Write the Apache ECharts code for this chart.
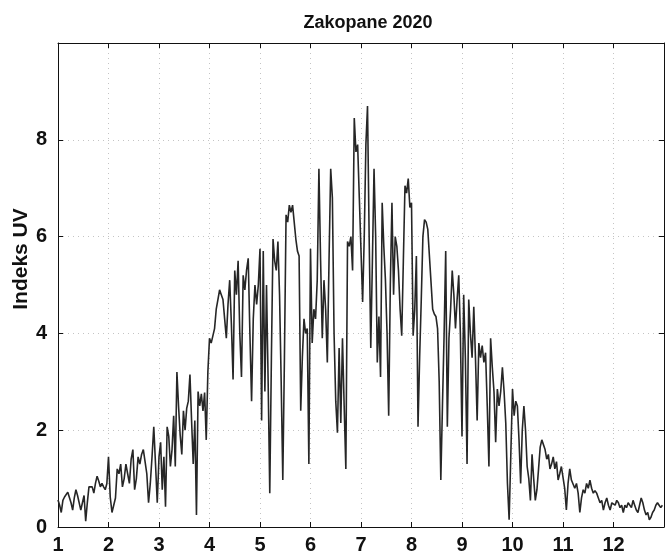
<!DOCTYPE html>
<html>
<head>
<meta charset="utf-8">
<script src="https://cdn.jsdelivr.net/npm/echarts@6/dist/echarts.min.js"></script>
<style>
html,body{margin:0;padding:0;background:#fff;}
#chart{width:667px;height:555px;}
</style>
</head>
<body>
<div id="chart"></div>
<script>
// Daily UV index, Zakopane 2020
var jan = [0.56,0.45,0.30,0.55,0.62,0.60,0.72,0.70,0.50,0.35,0.60,0.77,0.65,0.62,0.35,0.50,0.65,0.12,0.50,0.83,0.80,0.83,0.70,0.90,1.05,0.95,0.83,0.90,0.83,0.77,0.90];
var feb = [1.45,0.62,0.30,0.45,0.60,1.20,1.10,1.30,0.83,1.00,1.30,1.10,0.90,1.40,1.60,0.77,1.00,1.45,1.30,1.50,1.60,1.35,1.10,0.50,0.90,1.45,2.07,1.30,0.50];
var mar = [1.45,1.75,0.77,1.45,0.42,2.07,1.87,1.25,1.60,2.30,1.25,3.20,2.50,1.90,1.50,2.40,2.00,2.45,2.60,3.15,2.20,1.30,2.20,0.25,2.80,2.50,2.75,2.40,2.78,1.80,3.20];
var apr = [3.90,3.80,3.80,4.10,4.50,4.70,4.90,4.80,4.70,4.30,3.90,4.60,5.10,4.20,3.05,5.30,4.80,5.50,4.00,3.10,5.20,4.90,5.30,5.55,4.00,2.60,4.30,5.00,4.60,5.00];
var may = [5.75,2.20,5.70,2.80,5.00,3.00,0.70,3.50,5.95,5.50,5.30,5.90,4.80,3.00,0.97,3.50,6.45,6.30,6.65,6.50,6.65,6.30,5.95,5.70,5.60,2.40,3.50,4.30,4.00,4.10,1.30];
var jun = [5.75,3.80,4.50,4.30,5.10,7.40,5.50,3.90,5.10,4.50,3.40,5.50,7.40,6.80,4.00,2.60,1.95,3.70,2.15,3.90,2.50,1.20,5.90,5.80,6.00,5.30,8.45,7.75,7.90,6.80];
var jul = [6.80,4.65,6.00,7.90,8.70,6.00,3.70,5.50,7.40,6.00,3.40,4.35,3.10,6.70,5.80,5.10,4.00,2.30,5.00,6.70,4.80,6.00,5.80,5.30,4.50,3.95,5.50,7.05,6.90,7.20,6.60];
var aug = [6.70,3.95,4.50,5.60,2.07,3.50,4.70,6.00,6.35,6.30,6.15,5.60,5.05,4.50,4.40,4.35,4.10,3.00,0.97,2.50,3.95,5.70,2.07,3.90,4.50,5.30,4.80,4.10,4.70,5.20,4.00];
var sep = [1.87,4.80,3.50,1.30,4.70,4.00,3.50,4.55,3.50,2.20,3.80,3.50,3.75,3.40,3.60,2.50,1.25,3.90,3.30,2.80,1.75,2.85,2.50,2.80,3.30,2.80,2.15,0.90,0.15,1.50];
var oct = [2.85,2.30,2.60,2.50,1.80,0.90,2.00,2.50,2.00,1.25,1.00,0.55,1.50,1.00,0.55,0.77,1.20,1.65,1.80,1.80,1.60,1.40,1.50,1.20,1.30,1.45,1.20,1.35,0.97,1.10,1.25];
var nov = [1.25,0.80,0.35,0.90,1.20,0.97,1.00,0.80,0.90,0.70,0.30,0.60,0.77,0.70,0.90,0.80,0.97,0.80,0.70,0.75,0.70,0.60,0.50,0.55,0.35,0.50,0.60,0.45,0.35,0.50];
var dec = [0.50,0.45,0.55,0.50,0.40,0.45,0.30,0.45,0.40,0.50,0.50,0.40,0.55,0.45,0.35,0.30,0.45,0.60,0.50,0.35,0.25,0.30,0.15,0.20,0.30,0.35,0.45,0.50,0.45,0.40,0.45];

var xTickLabels = ['1','2','3','4','5','6','7','8','9','10','11','12'];
var yTickLabels = ['0','2','4','6','8'];
var titleText = 'Zakopane 2020';
var yAxisTitle = 'Indeks UV';

var months = [jan,feb,mar,apr,may,jun,jul,aug,sep,oct,nov,dec];
var points = [];
months.forEach(function(arr, mi){
  arr.forEach(function(v, d){
    points.push([mi + 1 + d / arr.length, v]);
  });
});

var FONT = 'Liberation Sans';
var gridLine = {show:true, lineStyle:{color:'#c4c4c4', type:[1,4], width:1}};
var axisCommon = {
  axisLine:{show:true, onZero:false, lineStyle:{color:'#111', width:1}},
  axisTick:{show:true, inside:true, length:5, lineStyle:{color:'#111'}}
};
var chart = echarts.init(document.getElementById('chart'), null, {renderer:'canvas'});
chart.setOption({
  animation:false,
  backgroundColor:'#fff',
  title:{text:titleText, left:363, textAlign:'center', top:9,
    textStyle:{fontFamily:FONT, fontWeight:'bold', fontSize:18, color:'#111'}},
  grid:{left:58, right:-2, top:43, bottom:28, show:false},
  graphic:[{type:'text', x:21, y:259, rotation:Math.PI/2,
    style:{text:yAxisTitle, fontFamily:FONT, fontWeight:'bold', fontSize:21, fill:'#111',
      align:'center', verticalAlign:'middle', textAlign:'center', textVerticalAlign:'middle'}}],
  xAxis:[Object.assign({type:'value', min:1, max:13, interval:1, position:'bottom',
    axisLabel:{show:true, margin:8, fontFamily:FONT, fontWeight:'bold', fontSize:20, color:'#111',
      formatter:function(v){ var i=Math.round(v)-1; return (i>=0 && i<xTickLabels.length)? xTickLabels[i] : ''; }},
    splitLine:gridLine}, axisCommon),
   Object.assign({type:'value', min:1, max:13, interval:1, position:'top',
    axisLabel:{show:false}, splitLine:{show:false}}, axisCommon)],
  yAxis:[Object.assign({type:'value', min:0, max:10, interval:2, position:'left',
    axisLabel:{show:true, margin:11, fontFamily:FONT, fontWeight:'bold', fontSize:20, color:'#111',
      formatter:function(v){ var i=Math.round(v/2); return (i<yTickLabels.length)? yTickLabels[i] : ''; }},
    splitLine:gridLine}, axisCommon),
   Object.assign({type:'value', min:0, max:10, interval:2, position:'right',
    axisLabel:{show:false}, splitLine:{show:false}}, axisCommon)],
  series:[{type:'line', data:points, showSymbol:false, symbol:'none',
    xAxisIndex:0, yAxisIndex:0,
    lineStyle:{color:'#262626', width:1.6}, clip:true}]
});
</script>
</body>
</html>
